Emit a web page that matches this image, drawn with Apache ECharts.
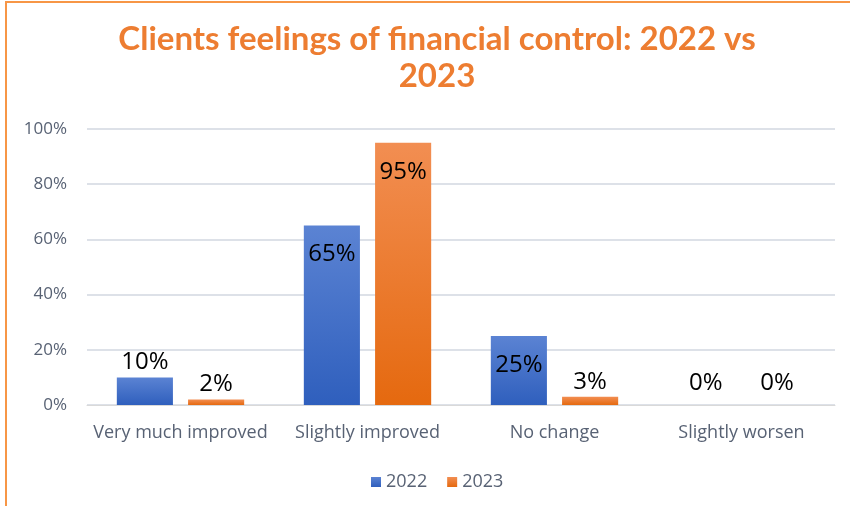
<!DOCTYPE html>
<html><head><meta charset="utf-8">
<script src="https://cdn.jsdelivr.net/npm/echarts@6/dist/echarts.min.js"></script>
<style>
html,body{margin:0;padding:0;background:#fff;}
#frame{position:absolute;left:5px;top:1px;width:845px;height:505px;border-left:2px solid #f79646;border-top:2px solid #f79646;box-sizing:border-box;}
#c{position:absolute;left:0;top:0;width:850px;height:506px;}
</style></head>
<body>
<div id="frame"></div>
<div id="c"></div>
<script>
const titleText = 'Clients feelings of financial control: 2022 vs\n2023';
const categories = ['Very much improved', 'Slightly improved', 'No change', 'Slightly worsen'];
const seriesNames = ['2022', '2023'];
const values2022 = [10, 65, 25, 0];
const values2023 = [2, 95, 3, 0];
const yTicks = [0, 20, 40, 60, 80, 100];
const insideLabel2022 = [false, true, true, false];
const insideLabel2023 = [false, true, false, false];

const chart = echarts.init(document.getElementById('c'));
const blueGrad = new echarts.graphic.LinearGradient(0,0,0,1,[{offset:0,color:'#5b83d3'},{offset:1,color:'#2f5fbd'}]);
const orangeGrad = new echarts.graphic.LinearGradient(0,0,0,1,[{offset:0,color:'#f28e52'},{offset:1,color:'#e5690f'}]);
const textGray = '#586274';
function mk(vals, inside) {
  return vals.map((v,i)=>({value:v, label:{position: inside[i] ? 'insideTop' : 'top', distance: inside[i] ? 17 : (v === 0 ? 10 : 3)}}));
}
chart.setOption({
  animation:false,
  title:{text:titleText,left:432,textAlign:'center',top:16,textStyle:{fontFamily:'Lato',fontWeight:'bold',fontSize:33,color:'#ed7d31',lineHeight:37}},
  legend:{bottom:10,left:366,itemWidth:10,itemHeight:10,itemGap:20,icon:'rect',
    textStyle:{fontFamily:'Open Sans',fontSize:18,color:textGray},data:seriesNames},
  grid:{left:87,right:15,top:129,bottom:101},
  xAxis:{type:'category',data:categories,axisTick:{show:false},
    axisLine:{lineStyle:{color:'#d9d9d9',width:1}},
    axisLabel:{interval:0,fontFamily:'Open Sans',fontSize:18,color:textGray,margin:19}},
  yAxis:{type:'value',min:yTicks[0],max:yTicks[yTicks.length-1],interval:20,
    axisLabel:{formatter:'{value}%',fontFamily:'Open Sans',fontSize:17,color:textGray,margin:20},
    splitLine:{lineStyle:{color:'#dde1e8',width:2}},axisLine:{show:false}},
  series:[
    {name:seriesNames[0],type:'bar',data:mk(values2022,insideLabel2022),barWidth:'30%',barGap:'27%',
     itemStyle:{color:blueGrad},
     label:{show:true,formatter:'{c}%',fontFamily:'Open Sans',fontSize:24,color:'#000'}},
    {name:seriesNames[1],type:'bar',data:mk(values2023,insideLabel2023),barWidth:'30%',
     itemStyle:{color:orangeGrad},
     label:{show:true,formatter:'{c}%',fontFamily:'Open Sans',fontSize:24,color:'#000'}}
  ]
});
</script>
</body></html>
